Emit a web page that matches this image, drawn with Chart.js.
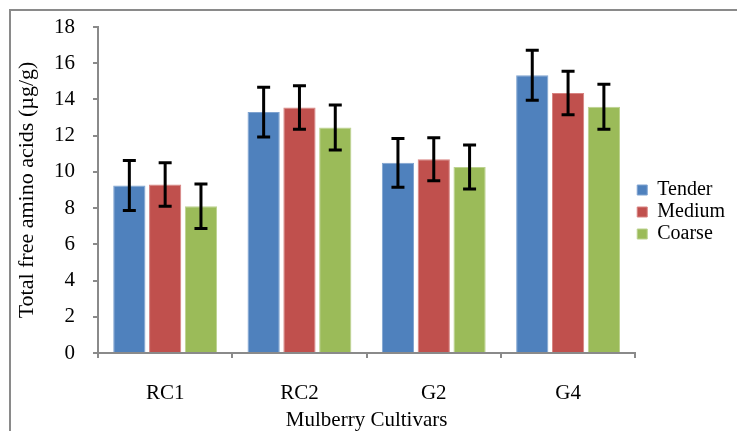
<!DOCTYPE html>
<html>
<head>
<meta charset="utf-8">
<script src="https://cdn.jsdelivr.net/npm/chart.js@4"></script>
<style>
  body { margin: 0; background: #fff; }
  #wrap { position: relative; width: 737px; height: 431px; }
  #frame { position: absolute; left: 9px; top: 9px; right: 0; bottom: -5px;
           border-left: 2px solid #8a8a8a; border-top: 2px solid #8a8a8a; }
</style>
</head>
<body>
<div id="wrap">
  <div id="frame"></div>
  <canvas id="myBarChart" width="737" height="431"></canvas>
</div>
<script>
var cultivars = ["RC1", "RC2", "G2", "G4"];
var tender = [9.25, 13.3, 10.5, 15.33];
var medium = [9.3, 13.55, 10.7, 14.35];
var coarse = [8.1, 12.45, 10.27, 13.6];
var tenderErr = [1.38, 1.37, 1.35, 1.38];
var mediumErr = [1.2, 1.2, 1.19, 1.2];
var coarseErr = [1.23, 1.24, 1.22, 1.24];

var fontName = "'Liberation Serif', 'Times New Roman', serif";
var axisGray = "#8a8a8a";

// draws the +/- error bars on top of each bar
var errorBars = {
    id: 'errorBars',
    afterDatasetsDraw: function(chart) {
        var ctx = chart.ctx;
        var yScale = chart.scales.y;
        ctx.save();
        ctx.strokeStyle = "#000";
        ctx.lineWidth = 3;
        chart.data.datasets.forEach(function(ds, i) {
            var meta = chart.getDatasetMeta(i);
            meta.data.forEach(function(bar, j) {
                var v = ds.data[j];
                var e = ds.errors[j];
                var top = yScale.getPixelForValue(v + e);
                var bot = yScale.getPixelForValue(v - e);
                var half = 6.5;
                ctx.beginPath();
                ctx.moveTo(bar.x, top);
                ctx.lineTo(bar.x, bot);
                ctx.moveTo(bar.x - half, top);
                ctx.lineTo(bar.x + half, top);
                ctx.moveTo(bar.x - half, bot);
                ctx.lineTo(bar.x + half, bot);
                ctx.stroke();
            });
        });
        ctx.restore();
    }
};

new Chart(document.getElementById("myBarChart"), {
    type: 'bar',
    data: {
        labels: cultivars,
        datasets: [
            { label: 'Tender', data: tender, errors: tenderErr,
              backgroundColor: "#4f81bd", borderColor: "#7fa3d0", borderWidth: 1 },
            { label: 'Medium', data: medium, errors: mediumErr,
              backgroundColor: "#c0504d", borderColor: "#d88381", borderWidth: 1 },
            { label: 'Coarse', data: coarse, errors: coarseErr,
              backgroundColor: "#9bbb59", borderColor: "#bcd28f", borderWidth: 1 }
        ]
    },
    options: {
        responsive: false,
        animation: false,
        layout: { padding: { left: 10, top: 27, right: 2, bottom: 0 } },
        plugins: {
            legend: {
                position: 'right',
                align: 'start',
                // empty title only used to push the items down to mid height
                title: { display: true, text: '', padding: { top: 139, bottom: 0 }, font: { size: 10 } },
                labels: {
                    boxWidth: 10, boxHeight: 10, padding: 2, color: "#000",
                    font: { family: fontName, size: 20 }
                }
            },
            tooltip: { enabled: false }
        },
        scales: {
            x: {
                categoryPercentage: 0.66,
                barPercentage: 1,
                grid: { drawOnChartArea: false, drawTicks: true, tickLength: 5, color: axisGray, lineWidth: 2 },
                border: { color: axisGray, width: 2 },
                ticks: { color: "#000", padding: 23, font: { family: fontName, size: 21 } },
                title: { display: true, text: 'Mulberry Cultivars', color: "#000",
                         padding: { top: 0, bottom: 0 }, font: { family: fontName, size: 21, lineHeight: 1 } },
                afterFit: function(scale) { scale.height = 78; }
            },
            y: {
                min: 0, max: 18,
                ticks: { stepSize: 2, color: "#000", padding: 18, font: { family: fontName, size: 21 } },
                grid: { drawOnChartArea: false, drawTicks: true, tickLength: 5, color: axisGray, lineWidth: 2 },
                border: { color: axisGray, width: 2 },
                title: { display: true, text: 'Total free amino acids (µg/g)', color: "#000",
                         padding: { top: 4, bottom: 0 }, font: { family: fontName, size: 22 } },
                afterFit: function(scale) {
                    scale.width = 88;
                    scale.paddingTop = 0;
                    scale.paddingBottom = 0;
                }
            }
        }
    },
    plugins: [errorBars]
});
</script>
</body>
</html>
